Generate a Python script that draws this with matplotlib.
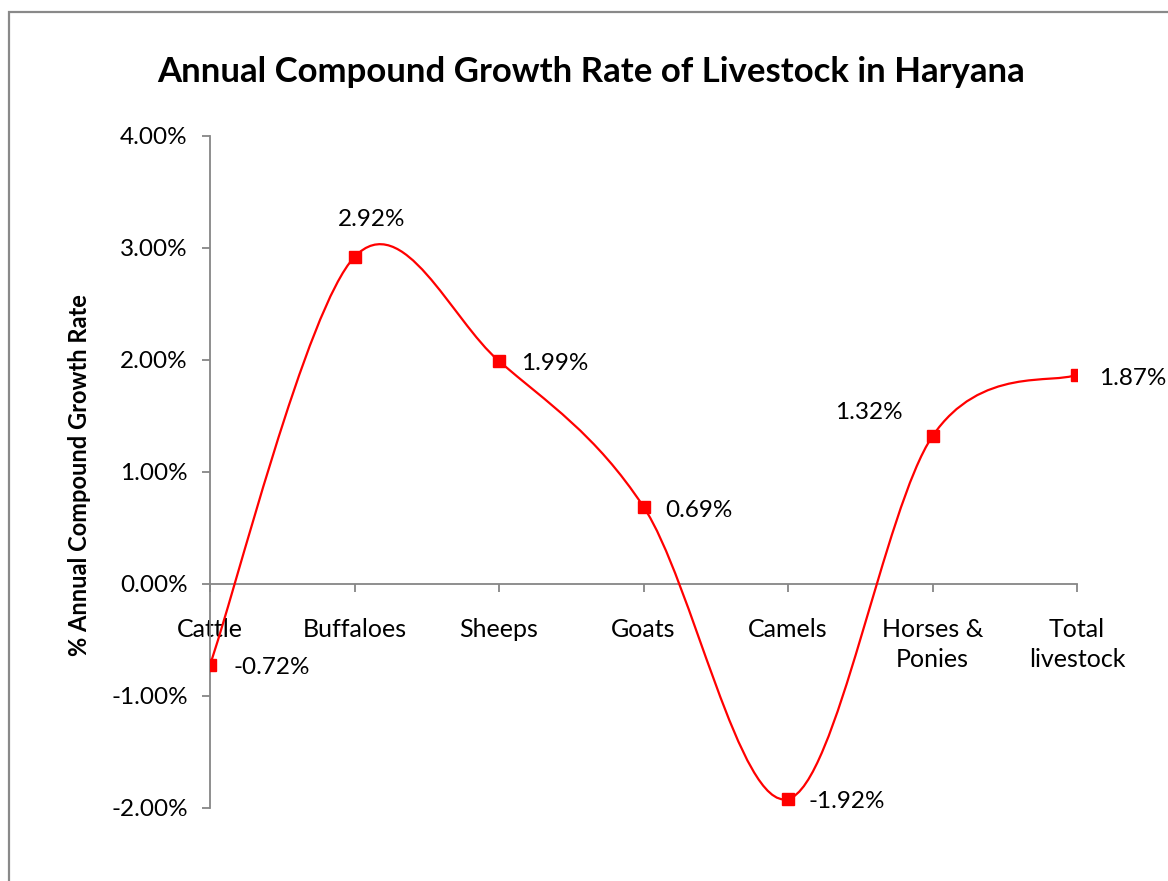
import matplotlib
matplotlib.use('Agg')
import matplotlib.pyplot as plt
from matplotlib.path import Path
from matplotlib.patches import PathPatch, Rectangle
from matplotlib.ticker import FuncFormatter

# data
categories = ['Cattle', 'Buffaloes', 'Sheeps', 'Goats', 'Camels',
              'Horses &\nPonies', 'Total\nlivestock']
growth = [-0.72, 2.92, 1.99, 0.69, -1.92, 1.32, 1.87]
yticks = [-2, -1, 0, 1, 2, 3, 4]

# data label placement (offset in points, horizontal alignment)
label_offsets = [(17, -2), (12, 27), (16, -2), (16, -3), (15, -2), (-46, 17), (16, -3)]
label_ha = ['left', 'center', 'left', 'left', 'left', 'center', 'left']

plt.rcParams['font.family'] = ['Lato', 'DejaVu Sans']

fig = plt.figure(figsize=(11.68, 8.81), dpi=100)
ax = fig.add_axes([210/1168, 1-808/881, (1077-210)/1168, (808-136)/881])

# outer chart frame
fig.patches.append(Rectangle((9/1168, -0.1), 1.2, 1-12/881+0.1,
                             transform=fig.transFigure, fill=False,
                             edgecolor='#898989', linewidth=1.6))

# smooth line (excel style bezier through the points)
xs = list(range(len(growth)))
n = len(growth)
verts = [(xs[0], growth[0])]
codes = [Path.MOVETO]
for i in range(n - 1):
    p0 = (xs[max(i-1, 0)], growth[max(i-1, 0)])
    p1 = (xs[i], growth[i])
    p2 = (xs[i+1], growth[i+1])
    p3 = (xs[min(i+2, n-1)], growth[min(i+2, n-1)])
    c1 = (p1[0] + (p2[0]-p0[0])/6, p1[1] + (p2[1]-p0[1])/6)
    c2 = (p2[0] - (p3[0]-p1[0])/6, p2[1] - (p3[1]-p1[1])/6)
    verts += [c1, c2, p2]
    codes += [Path.CURVE4]*3
ax.add_patch(PathPatch(Path(verts, codes), facecolor='none',
                       edgecolor='#FF0000', linewidth=1.6, zorder=3))
ax.plot(xs, growth, linestyle='none', marker='s', markersize=9,
        color='#FF0000', zorder=4)

for x, v, off, ha in zip(xs, growth, label_offsets, label_ha):
    ax.annotate('%.2f%%' % v, (x, v), xytext=off, textcoords='offset points',
                ha=ha, va='center', fontsize=17.5, color='black')

ax.set_xlim(0, 6)
ax.set_ylim(-2, 4)
ax.set_yticks(yticks)
ax.yaxis.set_major_formatter(FuncFormatter(lambda v, p: '%.2f%%' % v))
ax.set_xticks(xs)
ax.set_xticklabels(categories)

for s in ['top', 'right']:
    ax.spines[s].set_visible(False)
ax.spines['bottom'].set_position(('data', 0))
for s in ['left', 'bottom']:
    ax.spines[s].set_color('#868686')
    ax.spines[s].set_linewidth(1.3)
ax.tick_params(axis='both', direction='out', length=6, width=1.3,
               color='#868686')
ax.tick_params(axis='x', pad=18.5, labelsize=18)
ax.tick_params(axis='y', pad=10, labelsize=17.5)
for lbl in ax.get_xticklabels():
    lbl.set_linespacing(1.35)

fig.text(80/1168, 1-475/881, '% Annual Compound Growth Rate', rotation=90,
         ha='center', va='center', fontsize=17, fontweight='bold')
fig.text(591/1168, 1-72/881, 'Annual Compound Growth Rate of Livestock in Haryana',
         ha='center', va='center', fontsize=25, fontweight='bold')

fig.savefig('out.png', dpi=100)
